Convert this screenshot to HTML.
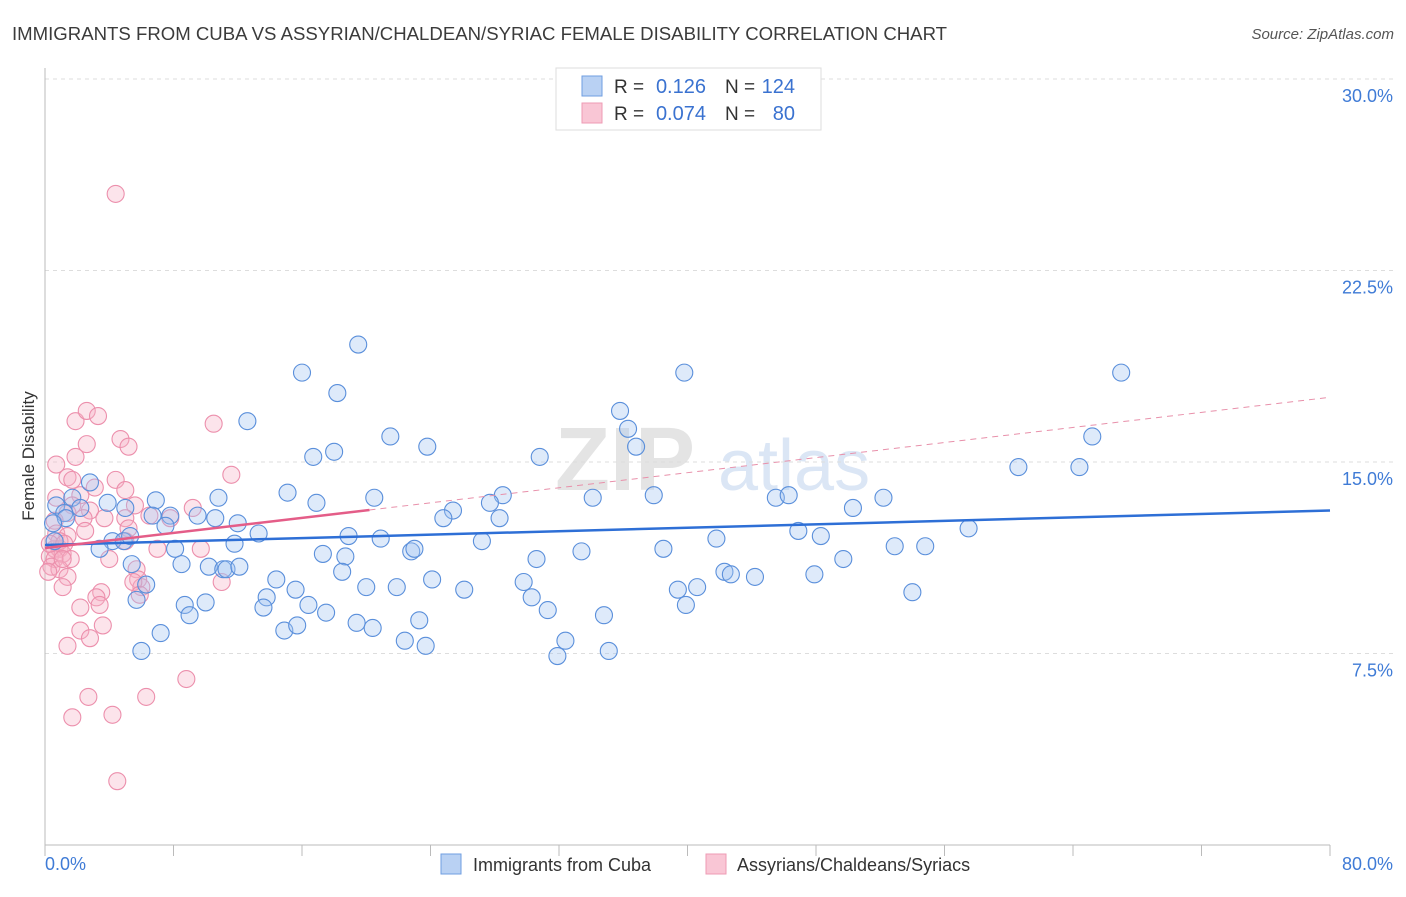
<!DOCTYPE html>
<html><head><meta charset="utf-8"><style>
body{margin:0;background:#fff;font-family:"Liberation Sans",sans-serif;}
svg text{font-family:"Liberation Sans",sans-serif;}
</style></head><body>
<svg id="chart" width="1406" height="892" viewBox="0 0 1406 892" xmlns="http://www.w3.org/2000/svg">
<text x="12" y="40" font-size="18.6" fill="#3b3b3b">IMMIGRANTS FROM CUBA VS ASSYRIAN/CHALDEAN/SYRIAC FEMALE DISABILITY CORRELATION CHART</text>
<text x="1394" y="39" font-size="15" fill="#555" font-style="italic" text-anchor="end">Source: ZipAtlas.com</text>
<text transform="translate(34,456) rotate(-90)" font-size="17" fill="#333" text-anchor="middle">Female Disability</text>
<g><text x="555" y="490" font-size="90" fill="#e4e4e4" font-family="Liberation Serif" font-weight="bold">ZIP</text><text x="718" y="490" font-size="72" fill="#dbe6f5">atlas</text></g>
<g id="grid"></g><g id="axes"></g><g id="marks"></g><g id="trends"></g>
<g>
<rect x="556" y="68" width="265" height="62" fill="#fff" stroke="#ddd"/>
<rect x="582" y="76" width="20" height="20" fill="#b9d1f3" stroke="#6f9ee0"/>
<rect x="582" y="103" width="20" height="20" fill="#f9c6d5" stroke="#ee9bb4"/>
<text x="614" y="93" font-size="19" fill="#333">R =</text>
<text x="706" y="93" font-size="20" fill="#3a72d0" text-anchor="end">0.126</text>
<text x="725" y="93" font-size="19" fill="#333">N =</text>
<text x="795" y="93" font-size="20" fill="#3a72d0" text-anchor="end">124</text>
<text x="614" y="120" font-size="19" fill="#333">R =</text>
<text x="706" y="120" font-size="20" fill="#3a72d0" text-anchor="end">0.074</text>
<text x="725" y="120" font-size="19" fill="#333">N =</text>
<text x="795" y="120" font-size="20" fill="#3a72d0" text-anchor="end">80</text>
</g>
<g>
<rect x="441" y="854" width="20" height="20" fill="#b9d1f3" stroke="#6f9ee0"/>
<text x="473" y="871" font-size="18" fill="#333">Immigrants from Cuba</text>
<rect x="706" y="854" width="20" height="20" fill="#f9c6d5" stroke="#ee9bb4"/>
<text x="737" y="871" font-size="18" fill="#333">Assyrians/Chaldeans/Syriacs</text>
</g>
</svg>
<script>
const yTicks=[7.5,15,22.5,30];
const yTickLabels=["7.5%","15.0%","22.5%","30.0%"];
const xTickCount=10;
const xLabels=["0.0%","80.0%"];
const cubaX=[19.5,16.0,18.2,39.8,67.0,12.6,21.5,23.8,35.8,36.3,36.8,65.2,30.8,16.7,18.0,60.6,64.4,2.8,15.1,16.9,20.5,28.5,27.7,34.1,37.9,45.5,46.3,52.2,10.8,6.9,3.9,1.7,2.2,0.7,1.2,1.3,5.0,6.7,7.8,9.5,10.6,12.0,13.3,7.5,25.4,24.8,28.3,50.3,57.5,46.9,48.3,18.9,20.9,27.2,41.8,0.5,0.6,4.2,3.4,4.9,8.1,11.8,22.8,23.0,17.3,18.7,30.6,33.4,38.5,52.9,54.8,8.5,10.2,11.1,11.3,12.1,18.5,5.4,42.3,42.7,44.2,47.9,49.7,14.4,24.1,29.8,20.0,21.9,15.6,26.1,39.4,40.6,13.8,13.6,16.4,5.7,6.3,8.7,10.0,9.0,30.3,31.3,39.9,54.0,17.5,19.4,23.3,14.9,15.7,20.4,7.2,22.4,23.7,32.4,34.8,31.9,35.1,6.0,5.3];
const cubaY=[19.6,18.5,17.7,18.5,18.5,16.6,16.0,15.6,17.0,16.3,15.6,16.0,15.2,15.2,15.4,14.8,14.8,14.2,13.8,13.4,13.6,13.7,13.4,13.6,13.7,13.6,13.7,13.6,13.6,13.5,13.4,13.6,13.2,13.3,13.0,12.8,13.2,12.9,12.9,12.9,12.8,12.6,12.2,12.5,13.1,12.8,12.8,13.2,12.4,12.3,12.1,12.1,12.0,11.9,12.0,12.6,11.9,11.9,11.6,11.9,11.6,11.8,11.5,11.6,11.4,11.3,11.2,11.5,11.6,11.7,11.7,11.0,10.9,10.8,10.8,10.9,10.7,11.0,10.7,10.6,10.5,10.6,11.2,10.4,10.4,10.3,10.1,10.1,10.0,10.0,10.0,10.1,9.7,9.3,9.4,9.6,10.2,9.4,9.5,9.0,9.7,9.2,9.4,9.9,9.1,8.7,8.8,8.4,8.6,8.5,8.3,8.0,7.8,8.0,9.0,7.4,7.6,7.6,12.1];
const assyrX=[4.4,1.9,2.6,3.3,10.5,4.7,5.2,2.6,0.7,1.9,1.4,11.6,4.4,1.7,3.1,5.0,2.2,1.7,2.8,5.6,1.4,2.4,3.7,5.0,9.2,6.5,0.7,0.6,5.2,0.7,1.4,0.6,0.9,0.3,1.1,0.6,1.6,0.4,0.9,0.2,1.4,5.0,7.0,9.7,5.7,5.8,6.0,5.5,11.0,3.5,3.2,3.4,2.2,5.9,1.1,3.6,2.2,2.8,1.4,2.7,1.7,4.2,6.3,8.8,4.5,7.8,0.9,0.3,1.2,2.5,4.0,1.1];
const assyrY=[25.5,16.6,17.0,16.8,16.5,15.9,15.6,15.7,14.9,15.2,14.4,14.5,14.3,14.3,14.0,13.9,13.7,13.3,13.1,13.3,13.0,12.8,12.8,12.8,13.2,12.9,13.6,12.7,12.4,12.2,12.1,11.6,11.6,11.3,11.4,11.2,11.2,10.9,10.8,10.7,10.5,11.9,11.6,11.6,10.8,10.4,10.1,10.3,10.3,9.9,9.7,9.4,9.3,9.8,10.1,8.6,8.4,8.1,7.8,5.8,5.0,5.1,5.8,6.5,2.5,12.8,11.9,11.8,11.8,12.3,11.2,11.2];
const cubaTrend=[11.75,13.1];
const assyrTrend=[11.63,0.0738];
const assyrSolidEnd=20.2;

const NS="http://www.w3.org/2000/svg";
const X0=45,X1=1330,Y0=845,PXY=191.5/7.5;
const sx=v=>X0+v/80*(X1-X0);
const sy=v=>Y0-v*PXY;
function mk(tag,attrs,parent){const e=document.createElementNS(NS,tag);for(const k in attrs)e.setAttribute(k,attrs[k]);document.getElementById(parent).appendChild(e);return e;}
yTicks.forEach((t,i)=>{
  const g=mk('line',{x1:X0,x2:1393,y1:sy(t),y2:sy(t),stroke:'#ddd','stroke-dasharray':'4,4'},'grid');
  
  
  const l=mk('text',{x:1393,y:sy(t)+23,'font-size':18,fill:'#3f7bd6','text-anchor':'end'},'grid');
  l.textContent=yTickLabels[i];
  
  
});
const ya=mk('line',{x1:X0,x2:X0,y1:68,y2:Y0,stroke:'#bbb'},'axes');


const xa=mk('line',{x1:X0,x2:X1,y1:Y0,y2:Y0,stroke:'#bbb'},'axes');


for(let i=0;i<=xTickCount;i++){
  const t=mk('line',{x1:sx(i*8),x2:sx(i*8),y1:Y0,y2:Y0+11,stroke:'#bbb'},'axes');
  
  
}
const xl0=mk('text',{x:45,y:870,'font-size':18,fill:'#3f7bd6'},'axes');xl0.textContent=xLabels[0];


const xl1=mk('text',{x:1393,y:870,'font-size':18,fill:'#3f7bd6','text-anchor':'end'},'axes');xl1.textContent=xLabels[1];


assyrX.forEach((x,i)=>{
  const c=mk('circle',{cx:sx(x),cy:sy(assyrY[i]),r:8.5,fill:'rgba(246,178,199,0.35)',stroke:'#ec8fac','stroke-width':1.1},'marks');
  
  
});
cubaX.forEach((x,i)=>{
  const c=mk('circle',{cx:sx(x),cy:sy(cubaY[i]),r:8.5,fill:'rgba(160,195,240,0.35)',stroke:'#5a8fdb','stroke-width':1.1},'marks');
  
  
});
const bt=mk('line',{x1:sx(0),y1:sy(cubaTrend[0]),x2:sx(80),y2:sy(cubaTrend[1]),stroke:'#2e6fd6','stroke-width':2.5},'trends');


const pa=x=>assyrTrend[0]+assyrTrend[1]*x;
const pt=mk('line',{x1:sx(0),y1:sy(pa(0)),x2:sx(assyrSolidEnd),y2:sy(pa(assyrSolidEnd)),stroke:'#e45d88','stroke-width':2.5},'trends');


const pd=mk('line',{x1:sx(assyrSolidEnd),y1:sy(pa(assyrSolidEnd)),x2:sx(80),y2:sy(pa(80)),stroke:'#e890aa','stroke-width':1,'stroke-dasharray':'6,5'},'trends');


</script>
</body></html>
